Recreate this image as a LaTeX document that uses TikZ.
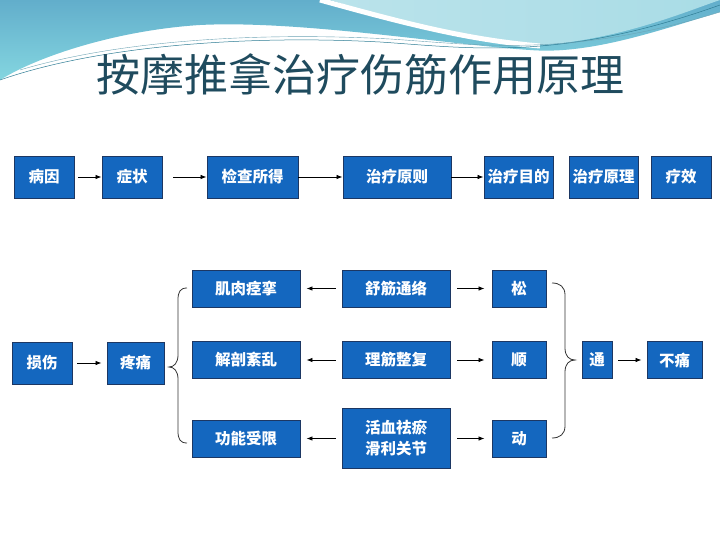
\documentclass[tikz,border=0pt]{standalone}
\usepackage{fontspec}
\newfontfamily\cjk{Noto Sans CJK SC}
\usetikzlibrary{arrows.meta}
\definecolor{boxblue}{HTML}{1467BF}
\definecolor{boxline}{HTML}{1C3763}
\definecolor{titleink}{HTML}{1F4B5E}
\definecolor{wave}{HTML}{62AECB}
\definecolor{wavelt}{HTML}{A9DCE6}
\definecolor{wavecyan}{HTML}{84D6E0}
\definecolor{waveline}{HTML}{2F7D95}
\tikzset{box/.style={draw=boxline,line width=0.9pt,fill=boxblue,text=white,align=center,inner sep=0pt,
  font=\cjk\bfseries\fontsize{15.5}{21}\selectfont},
  arr/.style={-{Latex[length=6pt,width=4.5pt]},line width=0.8pt},
  brace/.style={draw=black!80,line width=0.8pt}}

\begin{document}
\begin{tikzpicture}[x=1pt,y=-1pt]
\useasboundingbox (0,0) rectangle (720,540);
\fill[white] (0,0) rectangle (720,540);
% banner
\shade[top color=wave,bottom color=wavecyan] (0,0)--(720,0)--(720,12) .. controls (660,30) and (590,55) .. (530,50) .. controls (450,45) and (300,20) .. (200,25) .. controls (120,30) and (40,55) .. (0,80)--cycle;
\shade[left color=wavelt!80!white,right color=wavelt] (330,0) .. controls (420,28) and (480,42) .. (540,45) .. controls (620,40) and (690,10) .. (720,0)--cycle;
\draw[white,line width=5pt] (320,0) .. controls (410,25) and (470,40) .. (540,46);
\draw[waveline,line width=0.5pt] (0,80) .. controls (100,45) and (250,35) .. (380,42) .. controls (470,48) and (560,62) .. (720,5);
\draw[waveline!70,line width=0.4pt] (20,70) .. controls (120,40) and (260,32) .. (390,39) .. controls (480,45) and (570,58) .. (720,12);
\node[font=\cjk\fontsize{44}{50}\selectfont,text=titleink] (title) at (360,74) {按摩推拿治疗伤筋作用原理};
% top row
\node[box,minimum width=60,minimum height=42] (bingyin) at (44,177) {病因};
\node[box,minimum width=60,minimum height=42] (zhengzhuang) at (132,177) {症状};
\node[box,minimum width=91,minimum height=42] (jiancha) at (252.5,177) {检查所得};
\node[box,minimum width=108,minimum height=42] (yuanze) at (397,177) {治疗原则};
\node[box,minimum width=69,minimum height=42] (mudi) at (518.5,177) {治疗目的};
\node[box,minimum width=69,minimum height=42] (yuanli) at (603.5,177) {治疗原理};
\node[box,minimum width=60,minimum height=42] (liaoxiao) at (681,177) {疗效};
\draw[arr,shorten <=4pt] (bingyin)--(zhengzhuang);
\draw[arr,shorten <=11pt] (zhengzhuang)--(jiancha);
\draw[arr] (jiancha)--(yuanze);
\draw[arr] (yuanze)--(mudi);
% lower part
\node[box,minimum width=60,minimum height=42] (sunshang) at (42,363) {损伤};
\node[box,minimum width=57,minimum height=42] (tengtong) at (135.5,363) {疼痛};
\node[box,minimum width=108,minimum height=37] (jirou) at (246,288.5) {肌肉痉挛};
\node[box,minimum width=108,minimum height=37] (jiepou) at (246,360) {解剖紊乱};
\node[box,minimum width=108,minimum height=37] (gongneng) at (246,438.5) {功能受限};
\node[box,minimum width=108,minimum height=37] (shujin) at (396,288.5) {舒筋通络};
\node[box,minimum width=108,minimum height=37] (lijin) at (396,360) {理筋整复};
\node[box,minimum width=108,minimum height=60] (huoxue) at (396,438) {活血祛瘀\\滑利关节};
\node[box,minimum width=54,minimum height=37] (song) at (519,288.5) {松};
\node[box,minimum width=54,minimum height=37] (shun) at (519,360) {顺};
\node[box,minimum width=54,minimum height=37] (dong) at (519,438.5) {动};
\node[box,minimum width=30,minimum height=37] (tong) at (597,360) {通};
\node[box,minimum width=55,minimum height=37] (butong) at (674.5,360) {不痛};
\draw[arr,shorten <=5pt,shorten >=5pt] (sunshang)--(tengtong);
\draw[arr,shorten <=6pt,shorten >=6pt] (shujin)--(jirou);
\draw[arr,shorten <=6pt,shorten >=6pt] (lijin)--(jiepou);
\draw[arr,shorten <=6pt,shorten >=6pt] (huoxue.west|-gongneng)--(gongneng);
\draw[arr,shorten <=7pt,shorten >=7pt] (shujin)--(song);
\draw[arr,shorten <=7pt,shorten >=7pt] (lijin)--(shun);
\draw[arr,shorten <=7pt,shorten >=7pt] (huoxue.east|-dong)--(dong);
\draw[arr,shorten <=6pt,shorten >=5pt] (tong)--(butong);
% braces
\draw[brace] (187,288) .. controls (180,288) and (178,292) .. (178,300)--(178,355) .. controls (178,363) and (174,367) .. (169,367) .. controls (174,367) and (178,371) .. (178,379)--(178,431) .. controls (178,439) and (180,443) .. (187,443);
\draw[brace] (552,283) .. controls (560,283) and (565,287) .. (565,295)--(565,348) .. controls (565,356) and (569,360) .. (575,360) .. controls (569,360) and (565,364) .. (565,372)--(565,426) .. controls (565,434) and (560,438) .. (552,438);
\end{tikzpicture}
\end{document}
